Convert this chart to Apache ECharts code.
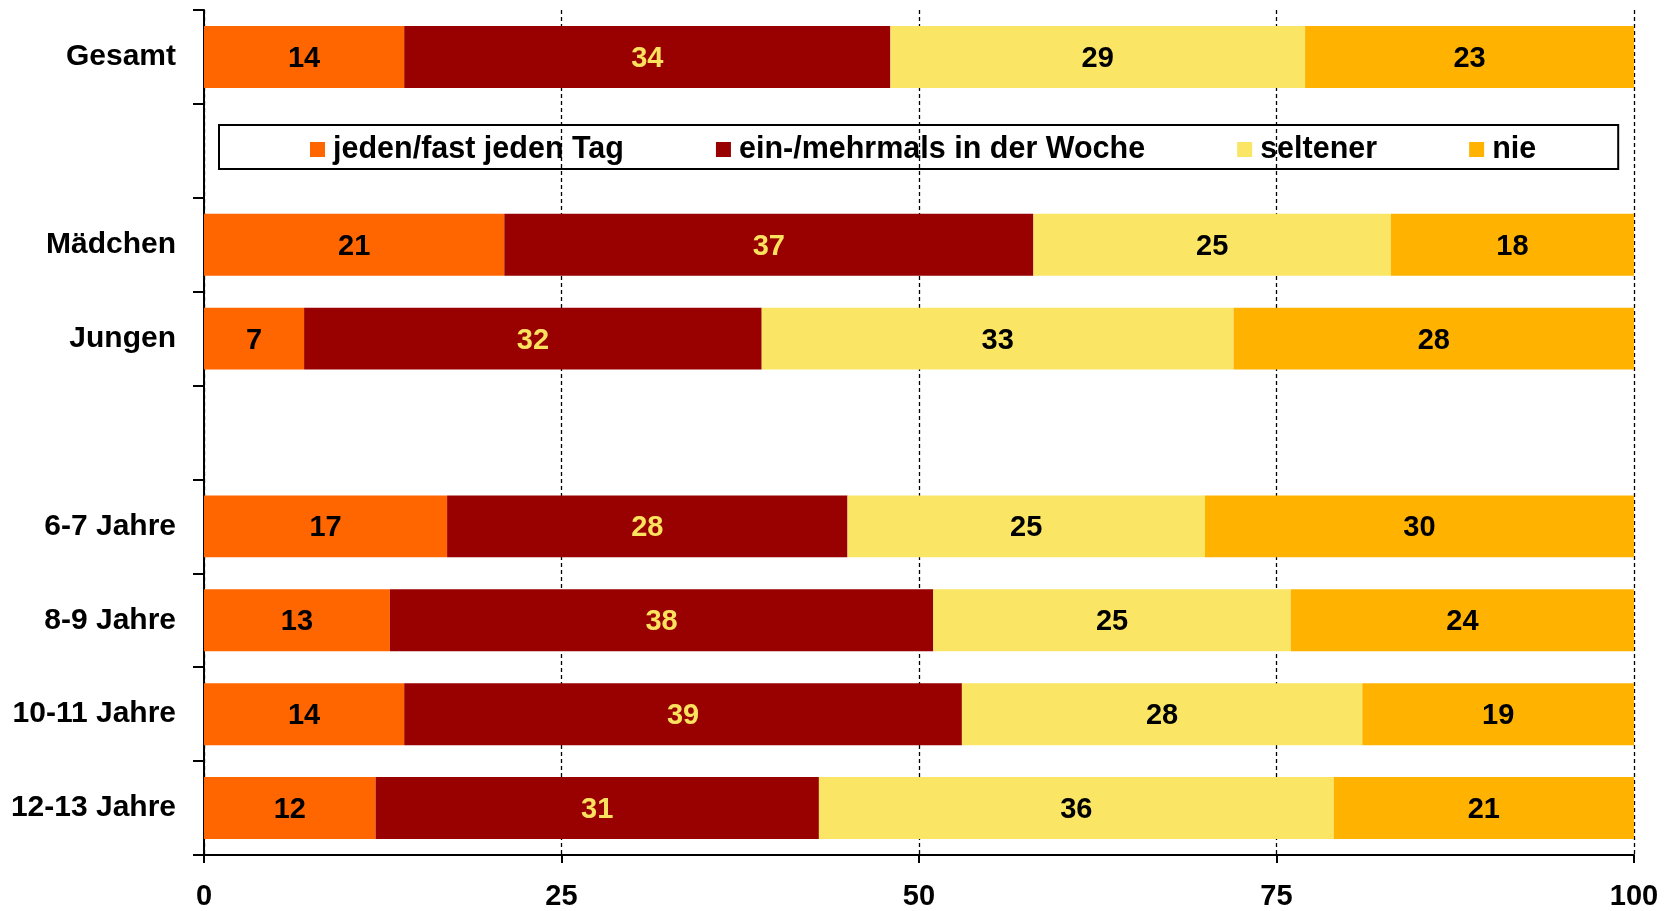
<!DOCTYPE html>
<html>
<head>
<meta charset="utf-8">
<script src="https://cdn.jsdelivr.net/npm/echarts@6/dist/echarts.min.js"></script>
<style>
html,body{margin:0;padding:0;background:#fff;}
#chart{width:1673px;height:911px;}
</style>
</head>
<body>
<div id="chart"></div>
<script>
const categories = ['Gesamt', '', 'Mädchen', 'Jungen', '', '6-7 Jahre', '8-9 Jahre', '10-11 Jahre', '12-13 Jahre'];
const seriesNames = ['jeden/fast jeden Tag', 'ein-/mehrmals in der Woche', 'seltener', 'nie'];
const daily   = [14, '-', 21, 7,  '-', 17, 13, 14, 12];
const weekly  = [34, '-', 37, 32, '-', 28, 38, 39, 31];
const rarely  = [29, '-', 25, 33, '-', 25, 25, 28, 36];
const never   = [23, '-', 18, 28, '-', 30, 24, 19, 21];
const xTicks = [0, 25, 50, 75, 100];

const colors = ['#FF6600', '#990000', '#FAE664', '#FFB300'];
const labelColors = ['#000000', '#FBE25E', '#000000', '#000000'];
const FONT = '"Liberation Sans", Arial, sans-serif';
const values = [daily, weekly, rarely, never];

const chart = echarts.init(document.getElementById('chart'), null, {renderer: 'canvas'});
chart.setOption({
  animation: false,
  backgroundColor: '#ffffff',
  textStyle: {fontFamily: FONT},
  grid: {left: 204, right: 39, top: 10, bottom: 54, containLabel: false},
  legend: {
    data: seriesNames,
    left: 219, top: 125,
    padding: [9, 82, 4, 91],
    itemGap: 92,
    itemWidth: 15, itemHeight: 15,
    icon: 'rect',
    borderColor: '#000', borderWidth: 2,
    textStyle: {fontFamily: FONT, fontWeight: 'bold', fontSize: 30.5, color: '#000', padding: [0, 0, 0, 3]}
  },
  xAxis: {
    type: 'value', min: xTicks[0], max: xTicks[xTicks.length - 1], interval: 25,
    axisLine: {show: true, lineStyle: {color: '#000', width: 2}},
    axisTick: {show: true, length: 8, lineStyle: {color: '#000', width: 2}},
    axisLabel: {color: '#000', fontFamily: FONT, fontWeight: 'bold', fontSize: 29, margin: 27},
    splitLine: {show: true, lineStyle: {color: '#000', width: 1.3, type: [4, 3]}}
  },
  yAxis: {
    type: 'category', data: categories, inverse: true,
    axisLine: {show: true, lineStyle: {color: '#000', width: 2}},
    axisTick: {show: true, length: 11, alignWithLabel: false, lineStyle: {color: '#000', width: 2}},
    axisLabel: {color: '#000', fontFamily: FONT, fontWeight: 'bold', fontSize: 30, margin: 28}
  },
  series: seriesNames.map((name, i) => ({
    name: name, type: 'bar', stack: 'total',
    data: values[i],
    barCategoryGap: '34%',
    clip: true,
    itemStyle: {color: colors[i]},
    label: {show: true, position: 'inside', offset: [0, 2], color: labelColors[i], fontFamily: FONT, fontWeight: 'bold', fontSize: 29}
  }))
});
</script>
</body>
</html>
